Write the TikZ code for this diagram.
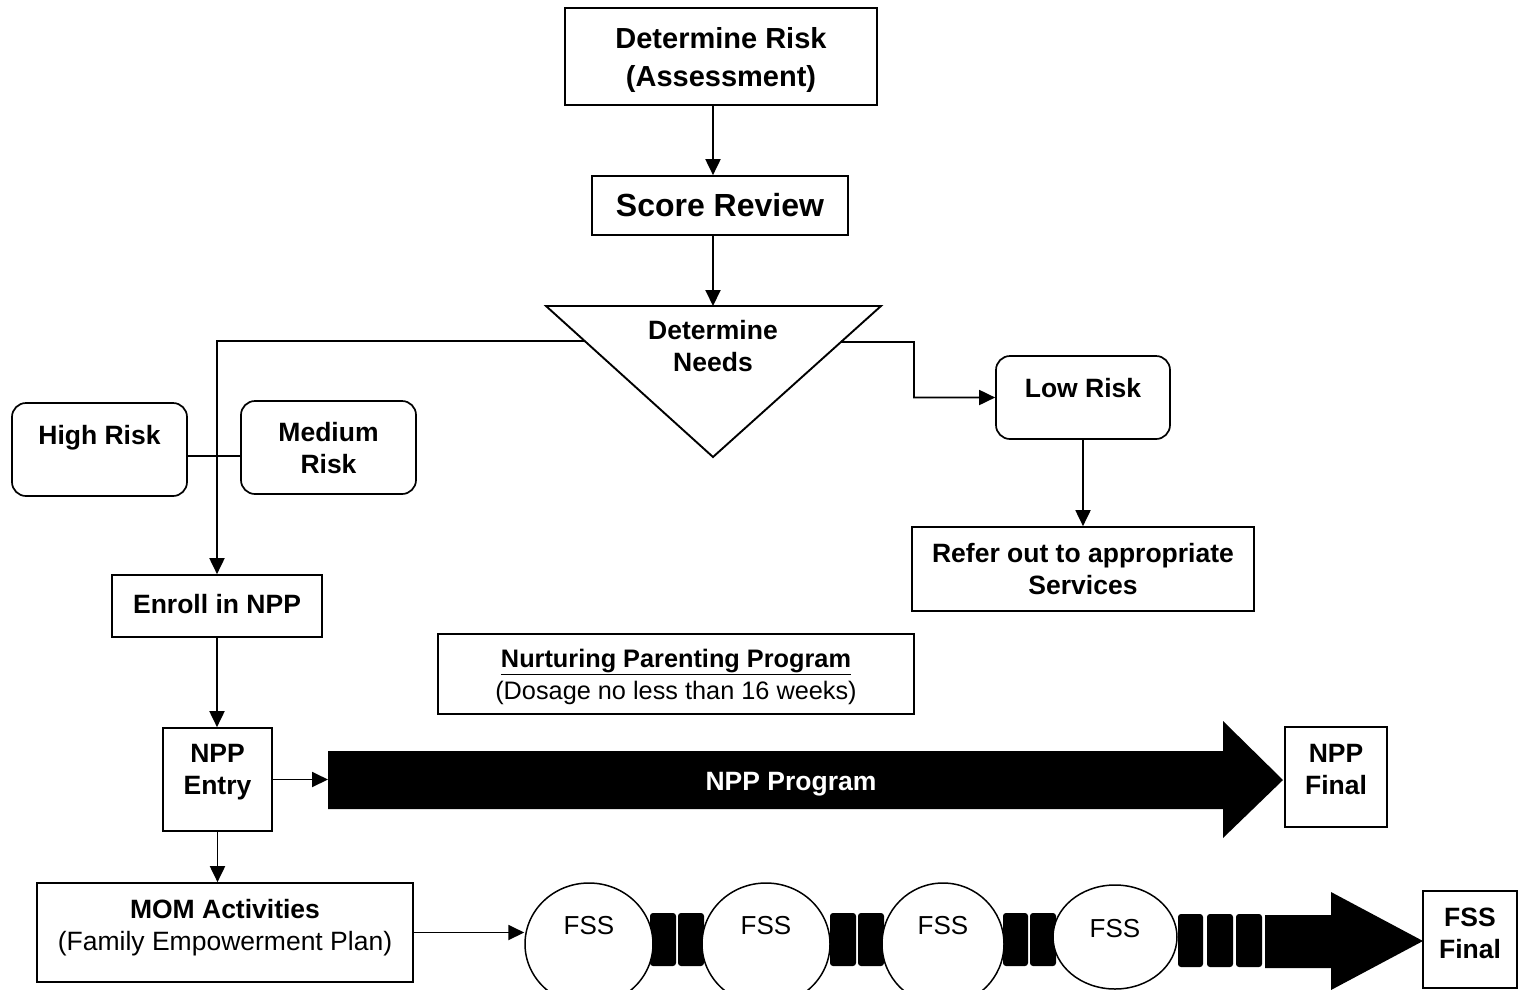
\documentclass[tikz,border=0pt]{standalone}
\usepackage{fontspec}
\setmainfont{Liberation Sans}
\usetikzlibrary{arrows.meta,shapes.geometric,calc}
\newcommand{\bx}[2][0pt]{\raisebox{\dimexpr #1-9.7pt\relax}[0pt][0pt]{\begin{tabular}{@{}c@{}}#2\end{tabular}}}
\newcommand{\thickul}[1]{\underline{#1}}
\tikzset{
  ln/.style={line width=1.9pt},
  arr/.style={ln, -{Triangle[length=16pt,width=15pt]}},
  box/.style={draw, line width=1.7pt, inner sep=0pt, font=\bfseries\fontsize{26.5}{32}\selectfont},
  rbox/.style={box, rounded corners=14pt},
  ell/.style={draw, line width=1.5pt, fill=white, ellipse, inner sep=0pt, font=\fontsize{26}{32}\selectfont},
  bar/.style={fill=black, rounded corners=3pt},
}
\begin{document}
\begin{tikzpicture}[x=1pt,y=-1pt]
\useasboundingbox (0,0) rectangle (1519,989);
\fill[white] (0,0) rectangle (1519,989);
\clip (0,0) rectangle (1519,989);

% top
\node[box, minimum width=312pt, minimum height=97pt, font=\bfseries\fontsize{29}{38}\selectfont] (risk) at (721,56.5) {\bx{Determine Risk\\(Assessment)}};
\node[box, minimum width=256pt, minimum height=59pt, font=\bfseries\fontsize{32}{38}\selectfont] (score) at (720,205.5) {\bx{Score Review}};

\coordinate (tl) at (546,306);
\coordinate (tr) at (881,306);
\coordinate (tb) at (713,457);
\draw[ln] (tl) -- (tr) -- (tb) -- cycle;
\node[inner sep=0pt, font=\bfseries\fontsize{26.5}{32}\selectfont] (needs) at (713,346) {\bx{Determine\\Needs}};

\draw[arr] (risk.south -| tb) -- (score.north -| tb);
\draw[arr] (score.south -| tb) -- (tl -| tb);

% risk boxes
\node[rbox, minimum width=175pt, minimum height=93pt] (high) at (99.5,449.5) {\bx[14.5pt]{High Risk}};
\node[rbox, minimum width=175pt, minimum height=93pt] (med) at (328.5,447.5) {\bx{Medium\\Risk}};
\node[rbox, minimum width=174pt, minimum height=83pt] (low) at (1083,397.5) {\bx[9.5pt]{Low Risk}};
\node[box, minimum width=342pt, minimum height=84pt] (refer) at (1083,569) {\bx{Refer out to appropriate\\Services}};
\node[box, minimum width=210pt, minimum height=62pt] (enroll) at (217,606) {\bx[2pt]{Enroll in NPP}};
\node[box, minimum width=476pt, minimum height=80pt, font=\fontsize{25.3}{32}\selectfont] (nurture) at (676,674) {\bx{\textbf{\thickul{Nurturing Parenting Program}}\\(Dosage no less than 16 weeks)}};

% connectors
\coordinate (ls) at ($(tl)!0.232!(tb)$);
\draw[arr] (ls) -| (enroll.north);
\coordinate (hm) at (217,456);
\draw[ln] (high.east |- hm) -- (med.west |- hm);
\coordinate (rs) at ($(tr)!0.238!(tb)$);
\coordinate (rb) at (914,342);
\draw[arr] (rs) -- (rb) |- (low.west);
\draw[arr] (low.south) -- (refer.north);

% NPP row
\node[box, minimum width=109pt, minimum height=103pt] (entry) at (217.5,779.5) {\bx[11pt]{NPP\\Entry}};
\node[box, minimum width=102pt, minimum height=100pt] (nppfinal) at (1336,777) {\bx[8.5pt]{NPP\\Final}};
\fill[black] (328,751) -- (1223,751) -- (1223,721) -- (1283,780) -- (1223,838) -- (1223,809) -- (328,809) -- cycle;
\node[inner sep=0pt, text=white, font=\bfseries\fontsize{26.5}{32}\selectfont] (nppprog) at (791,781) {\bx{NPP Program}};
\coordinate (shaftL) at (328,781);
\draw[arr] (enroll.south) -- (enroll.south |- entry.north);
\draw[arr] (entry.east) -- (entry.east -| shaftL);

% MOM row
\node[box, minimum width=376pt, minimum height=99pt] (mom) at (225,932.5) {\bx[7.5pt]{MOM Activities\\\mdseries (Family Empowerment Plan)}};
\draw[arr] (entry.south) -- (entry.south |- mom.north);

\fill[bar] (650,913) rectangle (676,966);
\fill[bar] (678,913) rectangle (704,966);
\fill[bar] (830,913) rectangle (856,966);
\fill[bar] (858,913) rectangle (884,966);
\fill[bar] (1003,913) rectangle (1028,966);
\fill[bar] (1030,913) rectangle (1056,966);
\fill[bar] (1178,914) rectangle (1203,967);
\fill[bar] (1207,914) rectangle (1233,967);
\fill[bar] (1236,914) rectangle (1262,967);
\fill[black] (1265,915) -- (1331,915) -- (1331,892) -- (1423,941) -- (1331,990) -- (1331,968) -- (1265,968) -- cycle;

\node[ell, minimum width=128pt, minimum height=122pt] (f1) at (589,944) {\bx[19pt]{FSS}};
\node[ell, minimum width=128pt, minimum height=122pt] (f2) at (766,944) {\bx[19pt]{FSS}};
\node[ell, minimum width=122pt, minimum height=122pt] (f3) at (943,944) {\bx[19pt]{FSS}};
\node[ell, minimum width=124pt, minimum height=104pt] (f4) at (1115,937) {\bx[9pt]{FSS}};

\draw[arr] (mom.east) -- (mom.east -| f1.west);

\node[box, minimum width=94pt, minimum height=97pt] (fssfinal) at (1470,939.5) {\bx[7pt]{FSS\\Final}};
\end{tikzpicture}
\end{document}
